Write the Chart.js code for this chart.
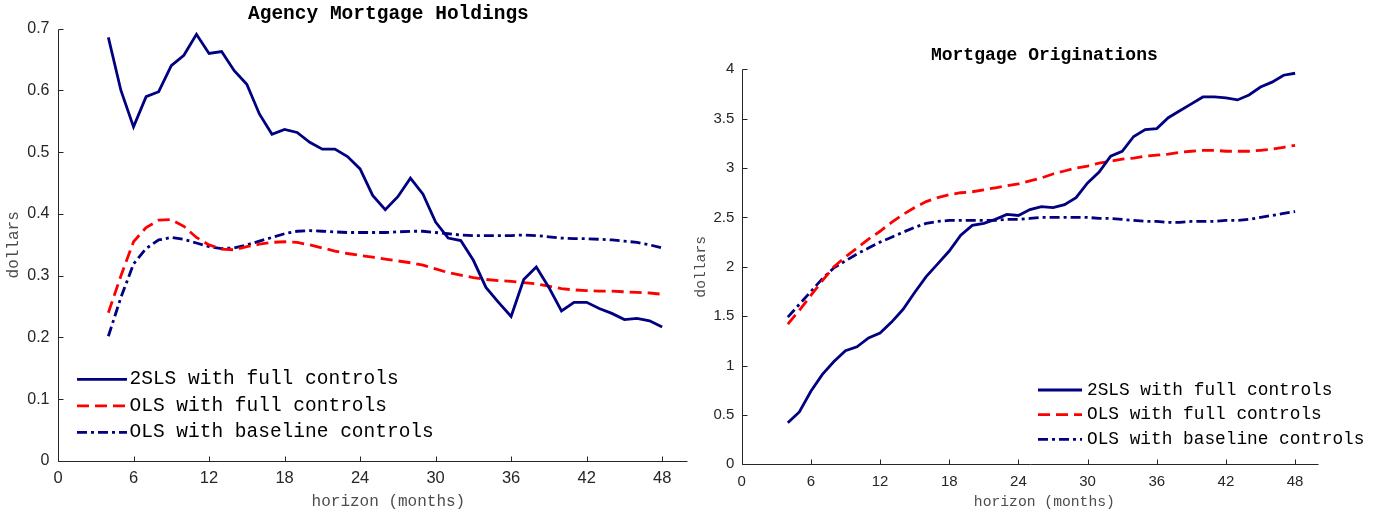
<!DOCTYPE html>
<html>
<head>
<meta charset="utf-8">
<script src="https://cdn.jsdelivr.net/npm/chart.js@4.4.1/dist/chart.umd.min.js"></script>
<style>
  body { margin: 0; background: #fff; }
  #left { position: absolute; left: 0; top: 0; }
  #right { position: absolute; left: 690px; top: 0; }
</style>
</head>
<body>
<canvas id="left" width="730" height="516"></canvas>
<canvas id="right" width="691" height="516"></canvas>
<script>
// horizon in months
var horizon = [4, 5, 6, 7, 8, 9, 10, 11, 12, 13, 14, 15, 16, 17, 18, 19, 20, 21, 22, 23, 24, 25, 26,
               27, 28, 29, 30, 31, 32, 33, 34, 35, 36, 37, 38, 39, 40, 41, 42, 43, 44, 45, 46, 47, 48];

var seriesNames = ['2SLS with full controls', 'OLS with full controls', 'OLS with baseline controls'];

// Agency Mortgage Holdings
var holdings2sls = [0.686, 0.600, 0.541, 0.590, 0.598, 0.640, 0.657, 0.691, 0.660, 0.663,
                    0.632, 0.610, 0.562, 0.529, 0.537, 0.532, 0.516, 0.505, 0.505, 0.493,
                    0.473, 0.430, 0.407, 0.428, 0.458, 0.432, 0.387, 0.361, 0.357, 0.325,
                    0.281, 0.257, 0.234, 0.294, 0.314, 0.281, 0.243, 0.257, 0.257, 0.247,
                    0.239, 0.229, 0.231, 0.227, 0.217];
var holdingsOlsFull = [0.240, 0.300, 0.355, 0.378, 0.390, 0.391, 0.380, 0.362, 0.350, 0.343,
                       0.342, 0.347, 0.351, 0.354, 0.355, 0.354, 0.350, 0.345, 0.340, 0.336,
                       0.333, 0.330, 0.327, 0.324, 0.321, 0.317, 0.311, 0.305, 0.301, 0.297,
                       0.294, 0.292, 0.291, 0.289, 0.287, 0.283, 0.279, 0.277, 0.276, 0.275,
                       0.275, 0.274, 0.273, 0.272, 0.270];
var holdingsOlsBase = [0.202, 0.265, 0.319, 0.344, 0.358, 0.362, 0.359, 0.353, 0.347, 0.344,
                       0.345, 0.350, 0.356, 0.362, 0.368, 0.372, 0.373, 0.372, 0.371, 0.370,
                       0.370, 0.370, 0.370, 0.371, 0.372, 0.372, 0.370, 0.368, 0.366, 0.365,
                       0.365, 0.365, 0.365, 0.366, 0.365, 0.363, 0.361, 0.360, 0.360, 0.359,
                       0.358, 0.356, 0.354, 0.350, 0.345];

// Mortgage Originations
var orig2sls = [0.42, 0.53, 0.74, 0.91, 1.04, 1.15, 1.19, 1.28, 1.33, 1.44,
                1.57, 1.74, 1.90, 2.03, 2.16, 2.32, 2.42, 2.44, 2.48, 2.53,
                2.52, 2.58, 2.61, 2.60, 2.63, 2.70, 2.85, 2.96, 3.12, 3.17,
                3.32, 3.39, 3.40, 3.51, 3.58, 3.65, 3.72, 3.72, 3.71, 3.69,
                3.74, 3.82, 3.87, 3.94, 3.96];
var origOlsFull = [1.42, 1.56, 1.71, 1.86, 2.00, 2.10, 2.19, 2.28, 2.36, 2.45,
                   2.53, 2.60, 2.66, 2.70, 2.73, 2.75, 2.76, 2.78, 2.80, 2.82,
                   2.84, 2.87, 2.90, 2.94, 2.97, 3.00, 3.02, 3.05, 3.07, 3.09,
                   3.10, 3.12, 3.13, 3.14, 3.16, 3.17, 3.18, 3.18, 3.17, 3.17,
                   3.17, 3.18, 3.19, 3.21, 3.23];
var origOlsBase = [1.49, 1.62, 1.75, 1.88, 1.99, 2.06, 2.13, 2.19, 2.25, 2.30,
                   2.35, 2.40, 2.44, 2.46, 2.47, 2.47, 2.47, 2.47, 2.47, 2.48,
                   2.48, 2.49, 2.50, 2.50, 2.50, 2.50, 2.50, 2.49, 2.49, 2.48,
                   2.47, 2.46, 2.46, 2.45, 2.45, 2.46, 2.46, 2.46, 2.47, 2.47,
                   2.48, 2.50, 2.52, 2.54, 2.56];

var xTicks = [0, 6, 12, 18, 24, 30, 36, 42, 48];
var holdingsTicks = [0, 0.1, 0.2, 0.3, 0.4, 0.5, 0.6, 0.7];
var origTicks = [0, 0.5, 1, 1.5, 2, 2.5, 3, 3.5, 4];

var xAxisEnd = 50;   // where the drawn x axis line stops
var xScaleMax = 52.5; // axes box is a bit wider than the drawn line, titles center on it

var NAVY = '#000080';
var RED = '#ff0000';
var AXIS = '#262626';
var LABEL = '#4d4d4d';
var MONO = '"Liberation Mono", "Courier New", monospace';
var SANS = '"Liberation Sans", Arial, Helvetica, sans-serif';

// axis lines (left and bottom only) with small ticks pointing into the plot
var matlabAxes = {
    id: 'matlabAxes',
    afterDraw: function(chart) {
        var ctx = chart.ctx;
        var x = chart.scales.x, y = chart.scales.y;
        var x0 = Math.round(x.getPixelForValue(0)) + 0.5;
        var x1 = Math.round(x.getPixelForValue(xAxisEnd)) + 0.5;
        var y0 = Math.round(y.getPixelForValue(0)) + 0.5;
        var y1 = Math.round(y.getPixelForValue(y.max)) + 0.5;
        ctx.save();
        ctx.strokeStyle = AXIS;
        ctx.lineWidth = 1;
        ctx.beginPath();
        ctx.moveTo(x0, y1); ctx.lineTo(x0, y0); ctx.lineTo(x1, y0);
        ctx.stroke();
        x.ticks.forEach(function(t) {
            var px = Math.round(x.getPixelForValue(t.value)) + 0.5;
            ctx.beginPath(); ctx.moveTo(px, y0); ctx.lineTo(px, y0 - 5); ctx.stroke();
        });
        y.ticks.forEach(function(t) {
            var py = Math.round(y.getPixelForValue(t.value)) + 0.5;
            ctx.beginPath(); ctx.moveTo(x0, py); ctx.lineTo(x0 + 5, py); ctx.stroke();
        });
        ctx.restore();
    }
};

// legend drawn inside the axes
var insideLegend = {
    id: 'insideLegend',
    afterDraw: function(chart, args, opts) {
        var ctx = chart.ctx;
        ctx.save();
        ctx.font = opts.fontSize + 'px ' + MONO;
        ctx.textBaseline = 'middle';
        chart.data.datasets.forEach(function(ds, i) {
            var yy = opts.y + i * opts.rowGap;
            ctx.strokeStyle = ds.borderColor;
            ctx.lineWidth = ds.borderWidth;
            ctx.setLineDash(ds.borderDash || []);
            ctx.beginPath(); ctx.moveTo(opts.x, yy); ctx.lineTo(opts.x + opts.lineLen, yy); ctx.stroke();
            ctx.setLineDash([]);
            ctx.fillStyle = '#000';
            ctx.fillText(ds.label, opts.x + opts.lineLen + opts.gap, yy);
        });
        ctx.restore();
    }
};

function pts(vals) {
    return horizon.map(function(h, i) { return {x: h, y: vals[i]}; });
}

function makeDatasets(a, b, c) {
    return [
        {label: seriesNames[0], data: pts(a), borderColor: NAVY, borderWidth: 2.8, pointRadius: 0, tension: 0},
        {label: seriesNames[1], data: pts(b), borderColor: RED, borderWidth: 2.8, borderDash: [12, 6], pointRadius: 0, tension: 0},
        {label: seriesNames[2], data: pts(c), borderColor: NAVY, borderWidth: 2.8, borderDash: [10, 4, 3, 4], pointRadius: 0, tension: 0}
    ];
}

function makeChart(id, o) {
    return new Chart(document.getElementById(id), {
        type: 'line',
        data: {datasets: makeDatasets(o.a, o.b, o.c)},
        plugins: [matlabAxes, insideLegend],
        options: {
            responsive: false,
            animation: false,
            layout: {padding: o.padding},
            plugins: {
                legend: {display: false},
                tooltip: {enabled: false},
                title: {
                    display: true,
                    fullSize: false,
                    text: o.title,
                    color: '#000',
                    font: {family: MONO, size: o.titleSize, weight: 'bold'},
                    padding: o.titlePad
                },
                insideLegend: o.legend
            },
            scales: {
                x: {
                    type: 'linear',
                    min: 0,
                    max: xScaleMax,
                    afterBuildTicks: function(s) { s.ticks = xTicks.map(function(v) { return {value: v}; }); },
                    afterFit: function(s) { s.height = o.xHeight; },
                    grid: {display: false, drawTicks: false},
                    border: {display: false},
                    ticks: {padding: o.xTickPad, color: AXIS, maxRotation: 0, autoSkip: false,
                            font: {family: SANS, size: o.xTickSize}},
                    title: {display: true, text: 'horizon (months)', color: LABEL,
                            font: {family: MONO, size: o.labelSize}, padding: {top: 0, bottom: o.xTitlePad}}
                },
                y: {
                    min: 0,
                    max: o.yMax,
                    afterBuildTicks: function(s) { s.ticks = o.yTicks.map(function(v) { return {value: v}; }); },
                    afterFit: function(s) { s.width = o.yWidth; },
                    grid: {display: false, drawTicks: false},
                    border: {display: false},
                    ticks: {padding: o.yTickPad, color: AXIS, font: {family: SANS, size: o.yTickSize},
                            callback: function(v) { return String(v); }},
                    title: {display: true, text: 'dollars', color: LABEL,
                            font: {family: MONO, size: o.labelSize}, padding: {top: o.yTitlePad, bottom: 0}}
                }
            }
        }
    });
}

makeChart('left', {
    a: holdings2sls, b: holdingsOlsFull, c: holdingsOlsBase,
    title: 'Agency Mortgage Holdings', titleSize: 19.5, titlePad: {top: 2.3, bottom: 3},
    padding: {left: 0, right: 11.2, top: 0, bottom: 0},
    xHeight: 55, yWidth: 58, yTitlePad: 3.8, xTitlePad: 4.4,
    xTickPad: 8, yTickPad: 8.5, xTickSize: 16.5, yTickSize: 16, labelSize: 16,
    yMax: 0.7, yTicks: holdingsTicks,
    legend: {x: 77, y: 379.3, rowGap: 26.5, lineLen: 50, gap: 2.5, fontSize: 19.5}
});

makeChart('right', {
    a: orig2sls, b: origOlsFull, c: origOlsBase,
    title: 'Mortgage Originations', titleSize: 18, titlePad: {top: 0, bottom: 3.5},
    padding: {left: 0, right: 34, top: 44.2, bottom: 0},
    xHeight: 51.7, yWidth: 51.7, yTitlePad: 2.2, xTitlePad: 5.2,
    xTickPad: 8.5, yTickPad: 7.4, xTickSize: 15, yTickSize: 15, labelSize: 14.7,
    yMax: 4, yTicks: origTicks,
    legend: {x: 348, y: 390, rowGap: 24.7, lineLen: 44, gap: 5, fontSize: 17.8}
});
</script>
</body>
</html>
